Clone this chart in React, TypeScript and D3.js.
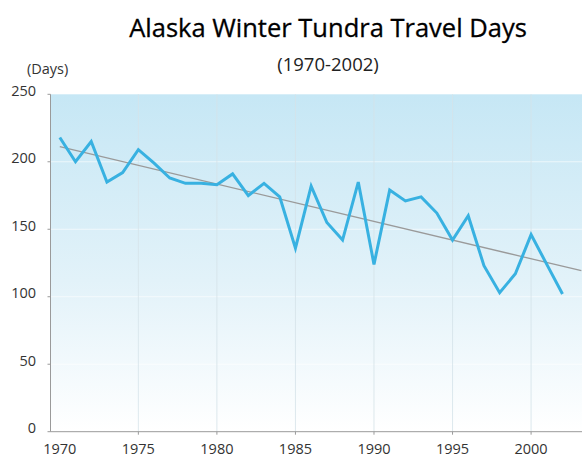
import React from "react";
import * as d3 from "d3";

const years: number[] = d3.range(1970, 2003);
const travelDays: number[] = [
  218, 200, 215, 185, 192, 209, 199, 188, 184, 184,
  183, 191, 175, 184, 174, 136, 182, 155, 142, 185,
  124, 179, 171, 174, 162, 142, 160, 123, 103, 117,
  146, 124, 102,
];
const yTicks: number[] = [0, 50, 100, 150, 200, 250];
const xTicks: number[] = [1970, 1975, 1980, 1985, 1990, 1995, 2000];
const trendSpan: number[] = [1970, 2003.2];

const W = 582;
const H = 458;

export default function App() {
  const x = d3.scaleLinear().domain([1970, 2002]).range([59.8, 562.5]);
  const y = d3.scaleLinear().domain([0, 250]).range([431.7, 94.3]);
  const left = 50.5;
  const right = W;
  const top = y(250);
  const bottom = y(0);

  const pts: [number, number][] = years.map((yr, i) => [yr, travelDays[i]]);
  const line = d3
    .line<[number, number]>()
    .x((d) => x(d[0]))
    .y((d) => y(d[1]));

  // least squares trend
  const mx = d3.mean(years)!;
  const my = d3.mean(travelDays)!;
  const sxy = d3.sum(years, (yr, i) => (yr - mx) * (travelDays[i] - my));
  const sxx = d3.sum(years, (yr) => (yr - mx) * (yr - mx));
  const slope = sxy / sxx;
  const trend = (t: number) => my + slope * (t - mx);
  const trendPts: [number, number][] = trendSpan.map((t) => [t, trend(t)]);

  const font = "'Open Sans', 'DejaVu Sans', sans-serif";

  return (
    <svg
      width={W}
      height={H}
      style={{ position: "absolute", left: 0, top: 0, background: "#fff" }}
      fontFamily={font}
    >
      <defs>
        <linearGradient id="bg" x1="0" y1="0" x2="0" y2="1">
          <stop offset="0" stopColor="#c6e7f5" />
          <stop offset="0.55" stopColor="#e2f2f9" />
          <stop offset="1" stopColor="#ffffff" />
        </linearGradient>
      </defs>

      <text x={328} y={37} textAnchor="middle" fontSize={25.5} fill="#000" stroke="#000" strokeWidth={0.3}>
        Alaska Winter Tundra Travel Days
      </text>
      <text x={328} y={71} textAnchor="middle" fontSize={18.5} fill="#222">
        (1970-2002)
      </text>
      <text x={27} y={74} fontSize={14.5} fill="#333">
        (Days)
      </text>

      <rect x={left} y={top} width={right - left} height={bottom - top} fill="url(#bg)" />

      {yTicks
        .filter((t) => t > 0 && t < 250)
        .map((t) => (
          <line
            key={"hg" + t}
            x1={left}
            x2={right}
            y1={y(t)}
            y2={y(t)}
            stroke="#ffffff"
            strokeOpacity={0.6}
            strokeWidth={1}
          />
        ))}
      {xTicks
        .filter((t) => t > 1970)
        .map((t) => (
          <line
            key={"vg" + t}
            x1={x(t)}
            x2={x(t)}
            y1={top}
            y2={bottom}
            stroke="#d5e2e8"
            strokeOpacity={0.8}
            strokeWidth={1}
          />
        ))}

      <path
        d={line(trendPts) || ""}
        fill="none"
        stroke="#9a9a9a"
        strokeWidth={1.3}
      />
      <path
        d={line(pts) || ""}
        fill="none"
        stroke="#38b1e1"
        strokeWidth={3}
        strokeLinejoin="miter"
      />

      <line x1={left} x2={left} y1={top} y2={bottom} stroke="#9a9a9a" strokeWidth={1} />
      <line x1={left} x2={right} y1={bottom} y2={bottom} stroke="#9a9a9a" strokeWidth={1} />

      {yTicks.map((t) => (
        <g key={"yt" + t}>
          <line x1={left - 3} x2={left} y1={y(t)} y2={y(t)} stroke="#9a9a9a" />
          <text
            x={36}
            y={y(t)}
            dy="0.1em"
            textAnchor="end"
            fontSize={14.5}
            fill="#333"
          >
            {t}
          </text>
        </g>
      ))}
      {xTicks.map((t) => (
        <g key={"xt" + t}>
          {t > 1970 && (
            <line x1={x(t)} x2={x(t)} y1={bottom} y2={bottom + 3} stroke="#9a9a9a" />
          )}
          <text x={x(t)} y={454} textAnchor="middle" fontSize={14.5} fill="#333">
            {t}
          </text>
        </g>
      ))}
    </svg>
  );
}
